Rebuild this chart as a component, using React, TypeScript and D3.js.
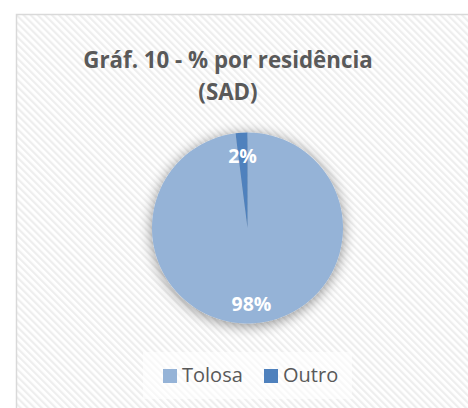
import React from "react";
import * as d3 from "d3";

const categories = ["Tolosa", "Outro"];
const values = [98, 2];
const labels = ["98%", "2%"];
const colors = ["#95b3d7", "#4f81bd"];
const titleLines = ["Gráf. 10 - % por residência", "(SAD)"];

export default function App() {
  const W = 468, H = 408;
  const cx = 247.5, cy = 228, r = 95.5;
  const pie = d3.pie<number>().sort(null).value((d) => d)(values);
  const arc = d3.arc<d3.PieArcDatum<number>>().innerRadius(0).outerRadius(r);
  const labelPos = [
    [4, 83],
    [-5, -65],
  ];
  const font = "'Open Sans', 'DejaVu Sans', sans-serif";
  return (
    <svg width={W} height={H} style={{ position: "absolute", left: 0, top: 0 }} fontFamily={font}>
      <defs>
        <pattern id="hatch" width="5" height="5" patternUnits="userSpaceOnUse" patternTransform="rotate(-45)">
          <rect width="5" height="5" fill="#ffffff" />
          <rect width="2.2" height="5" fill="#eeeeee" />
        </pattern>
        <filter id="shadow" x="-40%" y="-40%" width="180%" height="180%">
          <feGaussianBlur in="SourceAlpha" stdDeviation="7" />
          <feOffset dx="0" dy="2" result="b" />
          <feComponentTransfer>
            <feFuncA type="linear" slope="0.45" />
          </feComponentTransfer>
          <feMerge>
            <feMergeNode />
            <feMergeNode in="SourceGraphic" />
          </feMerge>
        </filter>
      </defs>
      <rect x={0} y={0} width={W} height={H} fill="#ffffff" />
      <rect x={16.5} y={14.5} width={470} height={410} fill="url(#hatch)" stroke="#d9d9d9" strokeWidth={1.5} />
      {titleLines.map((t, i) => (
        <text key={i} x={228} y={68 + i * 32} textAnchor="middle" fontSize={22.3} fontWeight="bold" fill="#595959">
          {t}
        </text>
      ))}
      <g transform={`translate(${cx},${cy})`} filter="url(#shadow)">
        {pie.map((p, i) => (
          <path key={i} d={arc(p) as string} fill={colors[i]} />
        ))}
      </g>
      <g transform={`translate(${cx},${cy})`}>
        {pie.map((p, i) => (
          <text key={i} x={labelPos[i][0]} y={labelPos[i][1]} textAnchor="middle" fontSize={19.5} fontWeight="bold" fill="#ffffff">
            {labels[i]}
          </text>
        ))}
      </g>
      <rect x={143} y={352} width={209} height={47} fill="#ffffff" fillOpacity={0.6} />
      {categories.map((c, i) => {
        const x = i === 0 ? 163 : 264;
        return (
          <g key={c}>
            <rect x={x} y={369} width={14} height={14} fill={colors[i]} />
            <text x={x + 19} y={382} fontSize={20} fill="#595959">
              {c}
            </text>
          </g>
        );
      })}
    </svg>
  );
}
